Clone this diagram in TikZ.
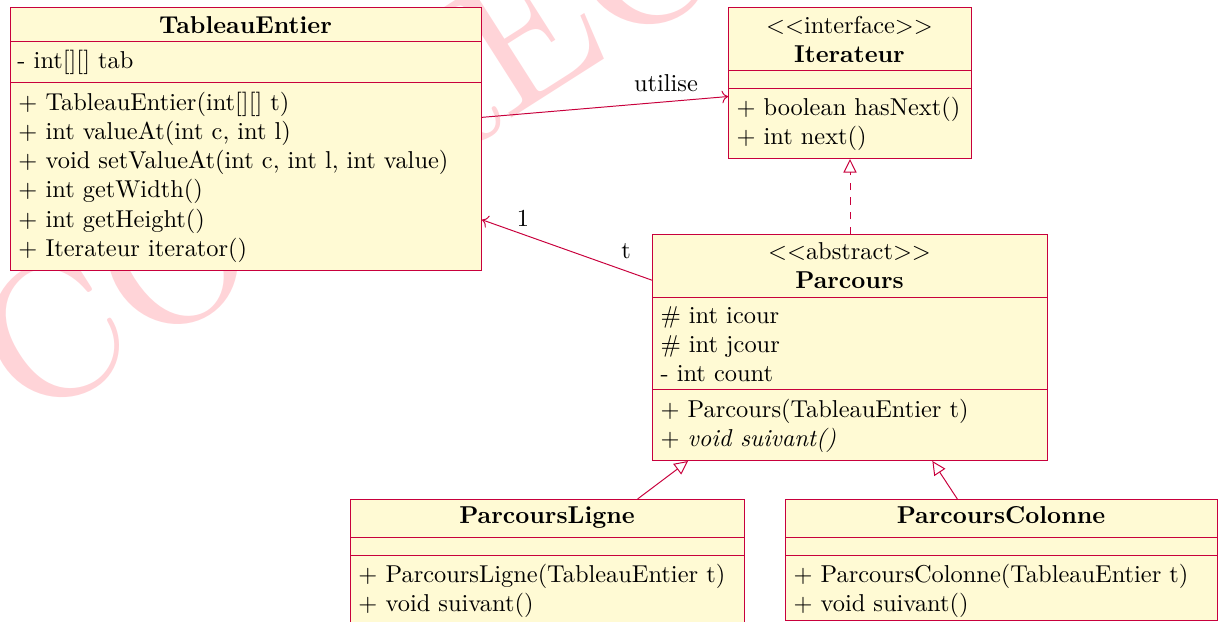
\documentclass[tikz,border=0pt]{standalone}
\usepackage{fontspec}
\newfontfamily\wmfont{lmroman10-regular.otf}
\usetikzlibrary{arrows.meta,calc}
\definecolor{umlline}{RGB}{200,0,60}
\definecolor{umlfill}{RGB}{255,250,212}
\definecolor{wmark}{RGB}{255,212,216}
\def\pxunit{0.4098pt}
\begin{document}
\begin{tikzpicture}[x=0.4098pt,y=-0.4098pt,
  classbox/.style={draw=umlline,fill=umlfill,inner sep=0pt,anchor=north west},
  sepline/.style={draw=umlline},
  txt/.style={anchor=base west,inner sep=0pt},
  ctr/.style={anchor=base,inner sep=0pt},
  wm/.style={anchor=base west,inner sep=0pt,text=wmark,rotate=32.5,font=\wmfont\fontsize{78}{80}\selectfont},
  assoc/.style={draw=umlline,->},
  realize/.style={draw=umlline,dashed,-{Triangle[open,length=5.6pt,width=5.4pt]}},
  inherit/.style={draw=umlline,-{Triangle[open,length=5.6pt,width=5.4pt]}}]
\useasboundingbox (0,0) rectangle (1220,621);
\begin{scope}
\clip (0,0) rectangle (1220,621);
% watermark
\node[wm] (wmk) at (29.3,426) {CORRECTION};

% TableauEntier
\node[classbox,minimum width=471*\pxunit,minimum height=263*\pxunit] (tab) at (10,7) {};
\draw[sepline] (10,41) -- (481,41);
\draw[sepline] (10,82) -- (481,82);
\node[ctr] (tab-t) at (245.5,33) {\textbf{TableauEntier}};
\node[txt] (tab-a1) at (17,68) {- int[][] tab};
\node[txt] (tab-o1) at (18,110) {+ TableauEntier(int[][] t)};
\node[txt] (tab-o2) at (18,139.3) {+ int valueAt(int c, int l)};
\node[txt] (tab-o3) at (18,168.6) {+ void setValueAt(int c, int l, int value)};
\node[txt] (tab-o4) at (18,197.9) {+ int getWidth()};
\node[txt] (tab-o5) at (18,227.2) {+ int getHeight()};
\node[txt] (tab-o6) at (18,256.5) {+ Iterateur iterator()};

% Iterateur
\node[classbox,minimum width=243*\pxunit,minimum height=151*\pxunit] (it) at (728,7) {};
\draw[sepline] (728,70.5) -- (971,70.5);
\draw[sepline] (728,88) -- (971,88);
\node[ctr] (it-s) at (849.5,33) {$<<$interface$>>$};
\node[ctr] (it-t) at (849.5,62) {\textbf{Iterateur}};
\node[txt] (it-o1) at (736,115) {+ boolean hasNext()};
\node[txt] (it-o2) at (736,144) {+ int next()};

% Parcours
\node[classbox,minimum width=395*\pxunit,minimum height=226*\pxunit] (par) at (652,234) {};
\draw[sepline] (652,297) -- (1047,297);
\draw[sepline] (652,389) -- (1047,389);
\node[ctr] (par-s) at (849.5,259) {$<<$abstract$>>$};
\node[ctr] (par-t) at (849.5,288) {\textbf{Parcours}};
\node[txt] (par-a1) at (660,323) {\# int icour};
\node[txt] (par-a2) at (660,352) {\# int jcour};
\node[txt] (par-a3) at (660,381) {- int count};
\node[txt] (par-o1) at (660,417) {+ Parcours(TableauEntier t)};
\node[txt] (par-o2) at (660,446) {+ \textit{void suivant()}};

% ParcoursLigne
\node[classbox,minimum width=394*\pxunit,minimum height=123*\pxunit] (pl) at (350,499) {};
\draw[sepline] (350,537) -- (744,537);
\draw[sepline] (350,555) -- (744,555);
\node[ctr] (pl-t) at (547,523) {\textbf{ParcoursLigne}};
\node[txt] (pl-o1) at (358,582) {+ ParcoursLigne(TableauEntier t)};
\node[txt] (pl-o2) at (358,611) {+ void suivant()};

% ParcoursColonne
\node[classbox,minimum width=432*\pxunit,minimum height=121*\pxunit] (pc) at (785,499) {};
\draw[sepline] (785,537) -- (1217,537);
\draw[sepline] (785,555) -- (1217,555);
\node[ctr] (pc-t) at (1001,523) {\textbf{ParcoursColonne}};
\node[txt] (pc-o1) at (793,582) {+ ParcoursColonne(TableauEntier t)};
\node[txt] (pc-o2) at (793,611) {+ void suivant()};

% connectors
\draw[assoc] ($(tab.north east)!0.418!(tab.south east)$) -- ($(it.north west)!0.589!(it.south west)$);
\node[ctr] (lbl-util) at (666,91) {utilise};
\draw[assoc] ($(par.north west)!0.2035!(par.south west)$) -- ($(tab.north east)!0.806!(tab.south east)$);
\node[ctr] (lbl-one) at (523,226.5) {1};
\node[ctr] (lbl-t) at (626,258) {t};
\draw[realize] (par.north) -- (it.south);
\draw[inherit] ($(pl.north west)!0.728!(pl.north east)$) -- ($(par.south west)!0.0911!(par.south east)$);
\draw[inherit] ($(pc.north west)!0.398!(pc.north east)$) -- ($(par.south west)!0.708!(par.south east)$);
\end{scope}
\end{tikzpicture}
\end{document}
